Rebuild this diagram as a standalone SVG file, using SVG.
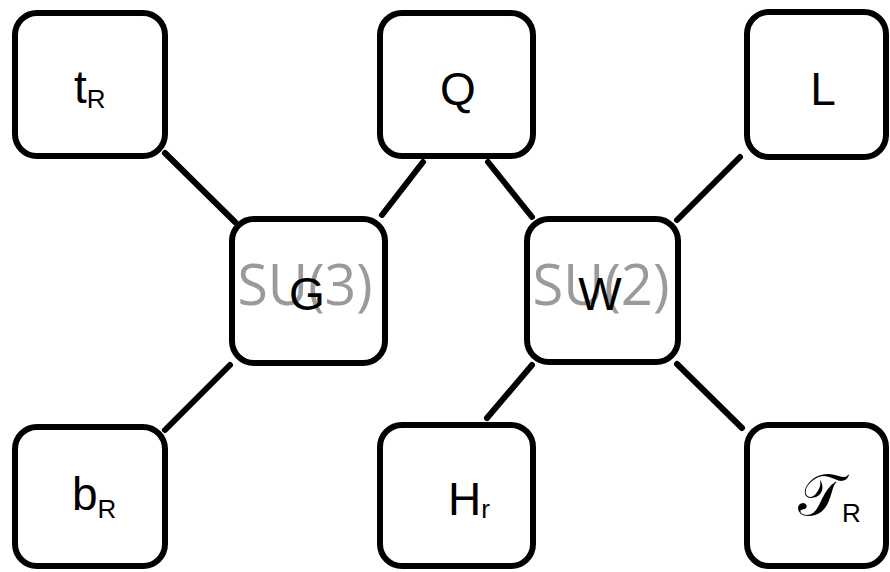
<svg xmlns="http://www.w3.org/2000/svg" width="890" height="572" viewBox="0 0 890 572">
<style>
.box{fill:#ffffff;stroke:#000000;stroke-width:6}
.lbl{font-family:"Liberation Sans","DejaVu Sans",sans-serif;font-size:46px;fill:#000000}
.sub{font-size:26px}
.grp{font-family:"Open Sans","Liberation Sans",sans-serif;font-size:56px;fill:#9a9a9a;text-anchor:middle}
.edge{stroke:#000000;stroke-width:6;stroke-linecap:round;fill:none}
</style>
<rect width="890" height="572" fill="#ffffff"/>
<g id="connectors">
<line class="edge" x1="165" y1="153" x2="235" y2="222"/>
<line class="edge" x1="423" y1="162" x2="382" y2="215"/>
<line class="edge" x1="488" y1="162" x2="532" y2="217"/>
<line class="edge" x1="740" y1="157" x2="677" y2="220"/>
<line class="edge" x1="230" y1="365" x2="165" y2="430"/>
<line class="edge" x1="532" y1="365" x2="487" y2="418"/>
<line class="edge" x1="677" y1="364" x2="742" y2="428"/>
</g>
<g id="node-tR">
<rect class="box" x="15" y="13" width="150" height="143" rx="22"/>
<text class="lbl" x="74" y="103">t<tspan class="sub" dy="5">R</tspan></text>
</g>
<g id="node-Q">
<rect class="box" x="380" y="13" width="153" height="143" rx="22"/>
<text class="lbl" x="458" y="105" text-anchor="middle">Q</text>
</g>
<g id="node-L">
<rect class="box" x="747" y="12" width="139" height="145" rx="22"/>
<text class="lbl" x="823" y="105" text-anchor="middle">L</text>
</g>
<g id="node-G">
<rect class="box" x="232" y="219" width="153" height="144" rx="22"/>
<text class="grp" x="305" y="305" textLength="135" lengthAdjust="spacingAndGlyphs">SU(3)</text>
<text class="lbl" x="307" y="310" text-anchor="middle">G</text>
</g>
<g id="node-W">
<rect class="box" x="527" y="219" width="151" height="143" rx="22"/>
<text class="grp" x="601" y="305" textLength="137" lengthAdjust="spacingAndGlyphs">SU(2)</text>
<text class="lbl" x="600" y="310" text-anchor="middle">W</text>
</g>
<g id="node-bR">
<rect class="box" x="15" y="427" width="150" height="139" rx="22"/>
<text class="lbl" x="72" y="510">b<tspan class="sub" dy="8">R</tspan></text>
</g>
<g id="node-Hr">
<rect class="box" x="380" y="425" width="153" height="141" rx="22"/>
<text class="lbl" x="448" y="515">H<tspan class="sub" dy="3">r</tspan></text>
</g>
<g id="node-TR">
<rect class="box" x="747" y="425" width="139" height="141" rx="22"/>
<text class="lbl" x="798" y="515" style="font-size:58px">𝒯<tspan class="sub" dy="7">R</tspan></text>
</g>
</svg>
